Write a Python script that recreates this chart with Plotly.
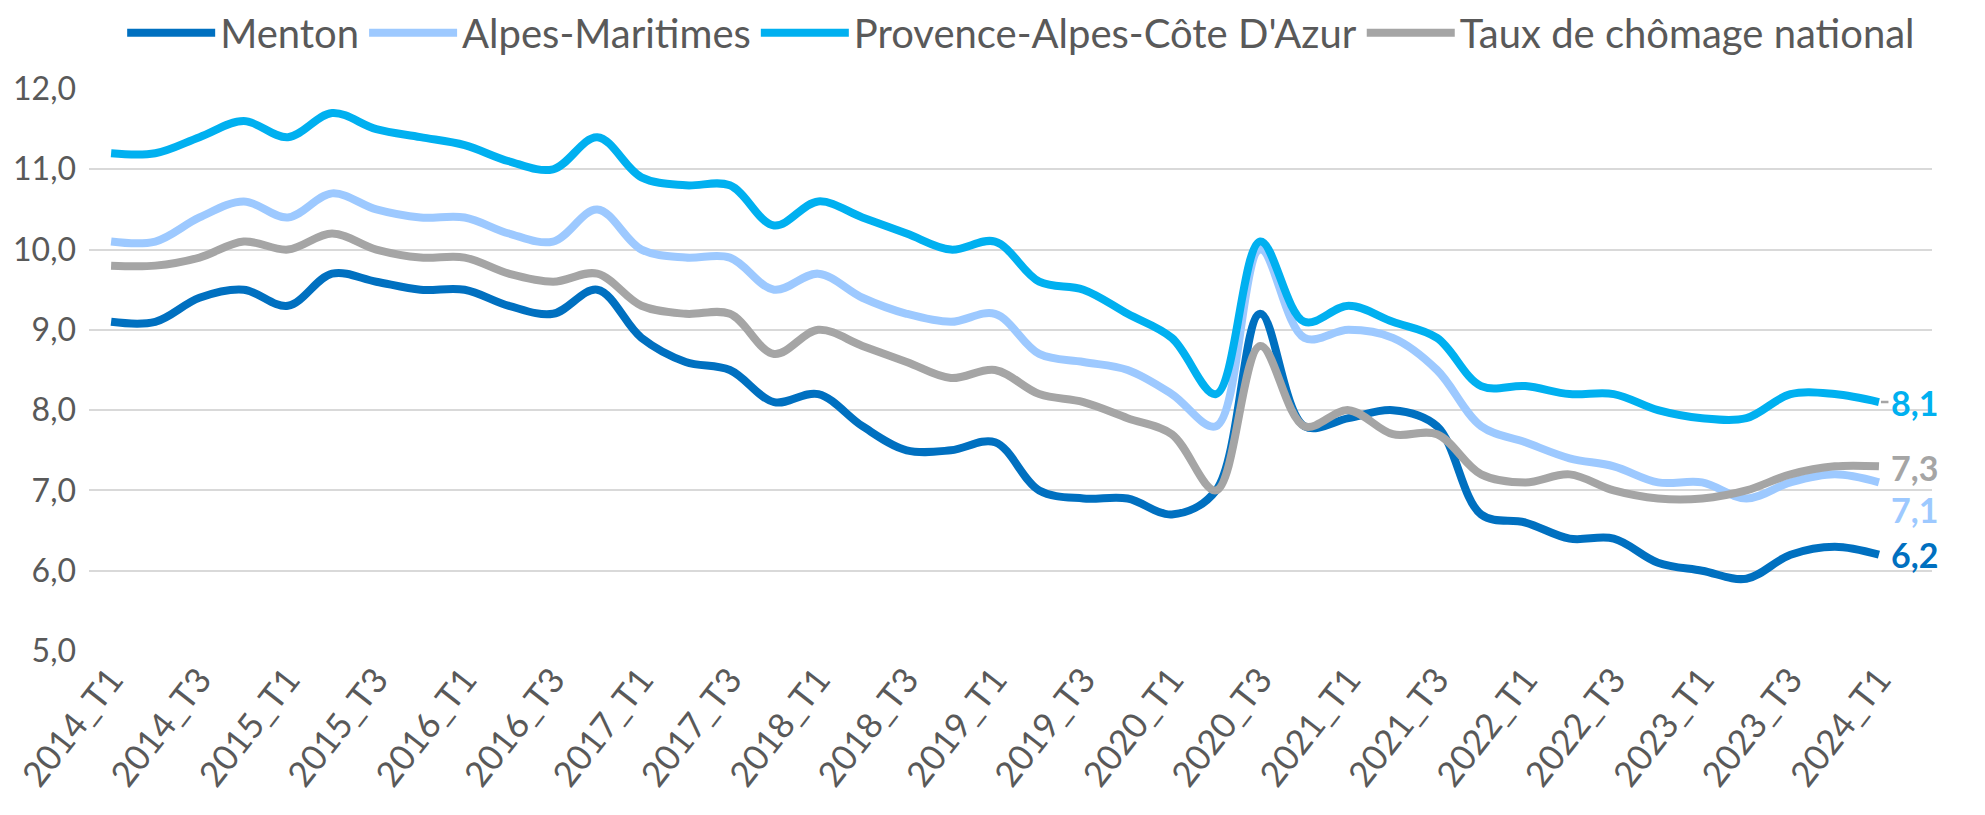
import plotly.graph_objects as go

# quarters 2014_T1 .. 2024_T1
quarters = [f"{y}_T{q}" for y in range(2014, 2025) for q in range(1, 5)][:41]
tick_labels = quarters[::2]

menton = [9.1, 9.1, 9.4, 9.5, 9.3, 9.7, 9.6, 9.5, 9.5, 9.3, 9.2,
          9.5, 8.9, 8.6, 8.5, 8.1, 8.2, 7.8, 7.5, 7.5, 7.6,
          7.0, 6.9, 6.9, 6.7, 7.0, 9.2, 7.8, 7.9, 8.0, 7.8,
          6.7, 6.6, 6.4, 6.4, 6.1, 6.0, 5.9, 6.2, 6.3, 6.2]
alpes_maritimes = [10.1, 10.1, 10.4, 10.6, 10.4, 10.7, 10.5, 10.4, 10.4, 10.2, 10.1,
                   10.5, 10.0, 9.9, 9.9, 9.5, 9.7, 9.4, 9.2, 9.1, 9.2,
                   8.7, 8.6, 8.5, 8.2, 7.8, 10.0, 8.9, 9.0, 8.9, 8.5,
                   7.8, 7.6, 7.4, 7.3, 7.1, 7.1, 6.9, 7.1, 7.2, 7.1]
paca = [11.2, 11.2, 11.4, 11.6, 11.4, 11.7, 11.5, 11.4, 11.3, 11.1, 11.0,
        11.4, 10.9, 10.8, 10.8, 10.3, 10.6, 10.4, 10.2, 10.0, 10.1,
        9.6, 9.5, 9.2, 8.9, 8.2, 10.1, 9.1, 9.3, 9.1, 8.9,
        8.3, 8.3, 8.2, 8.2, 8.0, 7.9, 7.9, 8.2, 8.2, 8.1]
national = [9.8, 9.8, 9.9, 10.1, 10.0, 10.2, 10.0, 9.9, 9.9, 9.7, 9.6,
            9.7, 9.3, 9.2, 9.2, 8.7, 9.0, 8.8, 8.6, 8.4, 8.5,
            8.2, 8.1, 7.9, 7.7, 7.0, 8.8, 7.8, 8.0, 7.7, 7.7,
            7.2, 7.1, 7.2, 7.0, 6.9, 6.9, 7.0, 7.2, 7.3, 7.3]

series = [
    ("Menton", menton, "#0070C0"),
    ("Alpes-Maritimes", alpes_maritimes, "#9DC9FF"),
    ("Provence-Alpes-Côte D'Azur", paca, "#00B0F0"),
    ("Taux de chômage national", national, "#A5A5A5"),
]

FONT = "Lato"
TEXT_COLOR = "#595959"

fig = go.Figure()
for name, values, color in series:
    fig.add_trace(
        go.Scatter(
            x=quarters,
            y=values,
            mode="lines",
            name=name,
            line={"color": color, "width": 8, "shape": "spline", "smoothing": 1.0},
        )
    )

# end-of-line value labels (the light blue one sits below to avoid overlap)
last = quarters[-1]
end_labels = [
    (paca[-1], paca[-1], "#00B0F0"),
    (national[-1], national[-1] - 0.02, "#A5A5A5"),
    (alpes_maritimes[-1], alpes_maritimes[-1] - 0.34, "#9DC9FF"),
    (menton[-1], menton[-1], "#0070C0"),
]
for value, ypos, color in end_labels:
    txt = f"{value:.1f}".replace(".", ",")
    fig.add_annotation(
        x=last,
        y=ypos,
        text=f"<b>{txt}</b>",
        showarrow=False,
        xanchor="left",
        xshift=10,
        font={"family": FONT, "size": 34, "color": color},
    )
# small grey leader next to the PACA label
fig.add_annotation(
    x=last,
    y=paca[-1],
    text="",
    showarrow=True,
    arrowhead=0,
    arrowwidth=2.5,
    arrowcolor="#A5A5A5",
    ax=11,
    ay=0,
    standoff=2,
)

fig.update_layout(
    width=1985,
    height=815,
    paper_bgcolor="white",
    plot_bgcolor="white",
    margin={"l": 81, "r": 61, "t": 81, "b": 172, "autoexpand": False},
    font={"family": FONT, "color": TEXT_COLOR},
    separators=", ",
    showlegend=True,
    legend={
        "orientation": "h",
        "x": 0.018,
        "xanchor": "left",
        "y": 1.1,
        "yanchor": "middle",
        "font": {"family": FONT, "size": 40, "color": TEXT_COLOR},
        "itemwidth": 88,
        "bgcolor": "rgba(0,0,0,0)",
    },
    xaxis={
        "type": "category",
        "range": [-0.5, 41.2],
        "tickvals": tick_labels,
        "ticktext": tick_labels,
        "tickangle": -52,
        "tickfont": {"family": FONT, "size": 35, "color": TEXT_COLOR},
        "showgrid": False,
        "showline": False,
        "ticks": "",
    },
    yaxis={
        "range": [5, 12],
        "dtick": 1,
        "tickformat": ".1f",
        "tickfont": {"family": FONT, "size": 32, "color": TEXT_COLOR},
        "showgrid": True,
        "gridcolor": "#D9D9D9",
        "gridwidth": 2,
        "zeroline": False,
        "showline": False,
        "ticks": "",
        "ticklabelstandoff": 12,
    },
)

fig.write_html("out.html")
